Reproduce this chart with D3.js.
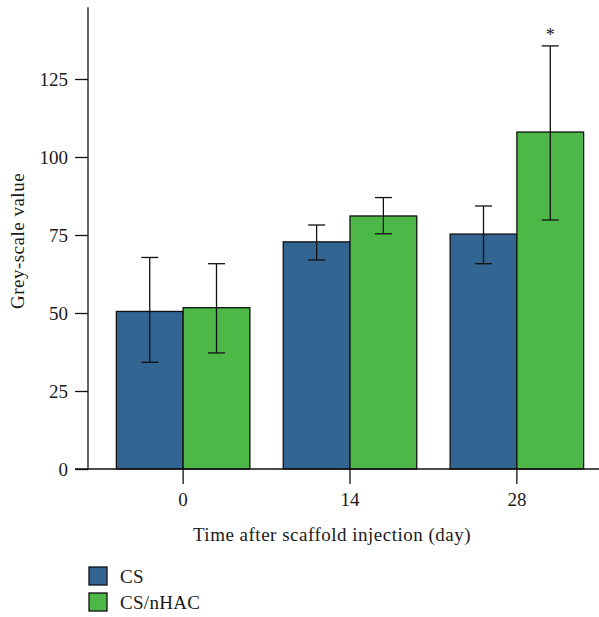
<!DOCTYPE html>
<html>
<head>
<meta charset="utf-8">
<script src="https://cdn.jsdelivr.net/npm/d3@7"></script>
<style>
  body { margin: 0; background: #fff; }
  svg text { font-family: "Liberation Serif", "DejaVu Serif", serif; fill: #1a1a1a; }
</style>
</head>
<body>
<div id="chart"></div>
<script>
// data
var days = ["0", "14", "28"];
var groups = ["CS", "CS/nHAC"];
var csMean = [50.5, 72.8, 75.3];
var csLow = [34.2, 67.0, 65.8];
var csHigh = [67.8, 78.2, 84.3];
var nhacMean = [51.7, 81.1, 108.0];
var nhacLow = [37.2, 75.4, 79.8];
var nhacHigh = [65.8, 87.0, 135.6];
var yTicks = [0, 25, 50, 75, 100, 125];
var marks = ["", "", "*"];

var colors = { "CS": "#336592", "CS/nHAC": "#4db848" };

var width = 599, height = 617;
var font = "Liberation Serif, DejaVu Serif, serif";

var svg = d3.select("#chart").append("svg")
    .attr("width", width)
    .attr("height", height);

var rows = days.map(function (d, i) {
  return {
    day: d, mark: marks[i],
    bars: [
      { key: "CS", v: csMean[i], lo: csLow[i], hi: csHigh[i] },
      { key: "CS/nHAC", v: nhacMean[i], lo: nhacLow[i], hi: nhacHigh[i] }
    ]
  };
});

var y = d3.scaleLinear().domain([0, 148]).range([469, 469 - 148 * 3.12]);

var x0 = d3.scaleBand().domain(days).range([88, 612])
    .paddingInner(0.2).paddingOuter(0.17);
var x1 = d3.scaleBand().domain(groups).range([0, x0.bandwidth()]);

// bars
var g = svg.selectAll("g.day").data(rows).enter().append("g")
    .attr("class", "day")
    .attr("transform", function (d) { return "translate(" + x0(d.day) + ",0)"; });

g.selectAll("rect").data(function (d) { return d.bars; }).enter().append("rect")
    .attr("x", function (d) { return x1(d.key); })
    .attr("y", function (d) { return y(d.v); })
    .attr("width", x1.bandwidth())
    .attr("height", function (d) { return y(0) - y(d.v); })
    .attr("fill", function (d) { return colors[d.key]; })
    .attr("stroke", "#111")
    .attr("stroke-width", 1.3);

// error bars
var cap = 8.5;
var cx = function (d) { return x1(d.key) + x1.bandwidth() / 2; };
var eb = g.selectAll("g.err").data(function (d) { return d.bars; }).enter().append("g")
    .attr("class", "err")
    .attr("stroke", "#111")
    .attr("stroke-width", 1.3);
eb.append("line")
    .attr("x1", cx).attr("x2", cx)
    .attr("y1", function (d) { return y(d.lo); })
    .attr("y2", function (d) { return y(d.hi); });
eb.append("line")
    .attr("x1", function (d) { return cx(d) - cap; })
    .attr("x2", function (d) { return cx(d) + cap; })
    .attr("y1", function (d) { return y(d.hi); })
    .attr("y2", function (d) { return y(d.hi); });
eb.append("line")
    .attr("x1", function (d) { return cx(d) - cap; })
    .attr("x2", function (d) { return cx(d) + cap; })
    .attr("y1", function (d) { return y(d.lo); })
    .attr("y2", function (d) { return y(d.lo); });

// significance mark
g.append("text")
    .text(function (d) { return d.mark; })
    .attr("x", x1("CS/nHAC") + x1.bandwidth() / 2)
    .attr("y", function (d) { return y(d.bars[1].hi) - 5; })
    .attr("text-anchor", "middle")
    .style("font-size", "18px");

// y axis
var yAxis = svg.append("g")
    .attr("transform", "translate(88,0)")
    .call(d3.axisLeft(y).tickValues(yTicks).tickSize(13).tickPadding(7).tickSizeOuter(0));
yAxis.select(".domain").remove();
yAxis.append("line")
    .attr("x1", 0).attr("x2", 0)
    .attr("y1", y(0)).attr("y2", y.range()[1])
    .attr("stroke", "#111").attr("stroke-width", 1.3);
yAxis.selectAll(".tick line").attr("stroke", "#111").attr("stroke-width", 1.3);
yAxis.selectAll(".tick text").style("font-size", "19px").attr("fill", "#1a1a1a")
    .style("font-family", font);

// x axis
var xAxis = svg.append("g")
    .attr("transform", "translate(0," + y(0) + ")")
    .call(d3.axisBottom(x0).tickSize(15).tickPadding(9).tickSizeOuter(0));
xAxis.select(".domain").remove();
xAxis.append("line")
    .attr("x1", 75).attr("x2", width)
    .attr("y1", 0).attr("y2", 0)
    .attr("stroke", "#111").attr("stroke-width", 1.3);
xAxis.selectAll(".tick line").attr("stroke", "#111").attr("stroke-width", 1.3);
xAxis.selectAll(".tick text").style("font-size", "19px").attr("fill", "#1a1a1a")
    .style("font-family", font);

// axis titles
svg.append("text")
    .text("Time after scaffold injection (day)")
    .attr("x", 332)
    .attr("y", 541)
    .attr("text-anchor", "middle")
    .style("font-size", "19px")
    .style("letter-spacing", "0.5px");

svg.append("text")
    .text("Grey-scale value")
    .attr("transform", "translate(24,241) rotate(-90)")
    .attr("text-anchor", "middle")
    .style("font-size", "19px")
    .style("letter-spacing", "0.5px");

// legend
var legend = svg.selectAll("g.legend").data(groups).enter().append("g")
    .attr("class", "legend")
    .attr("transform", function (d, i) { return "translate(89," + (567 + i * 26) + ")"; });
legend.append("rect")
    .attr("width", 18).attr("height", 18)
    .attr("fill", function (d) { return colors[d]; })
    .attr("stroke", "#111").attr("stroke-width", 1.3);
legend.append("text")
    .text(function (d) { return d; })
    .attr("x", 31)
    .attr("y", 16)
    .style("font-size", "19px")
    .style("letter-spacing", "0.3px");
</script>
</body>
</html>
